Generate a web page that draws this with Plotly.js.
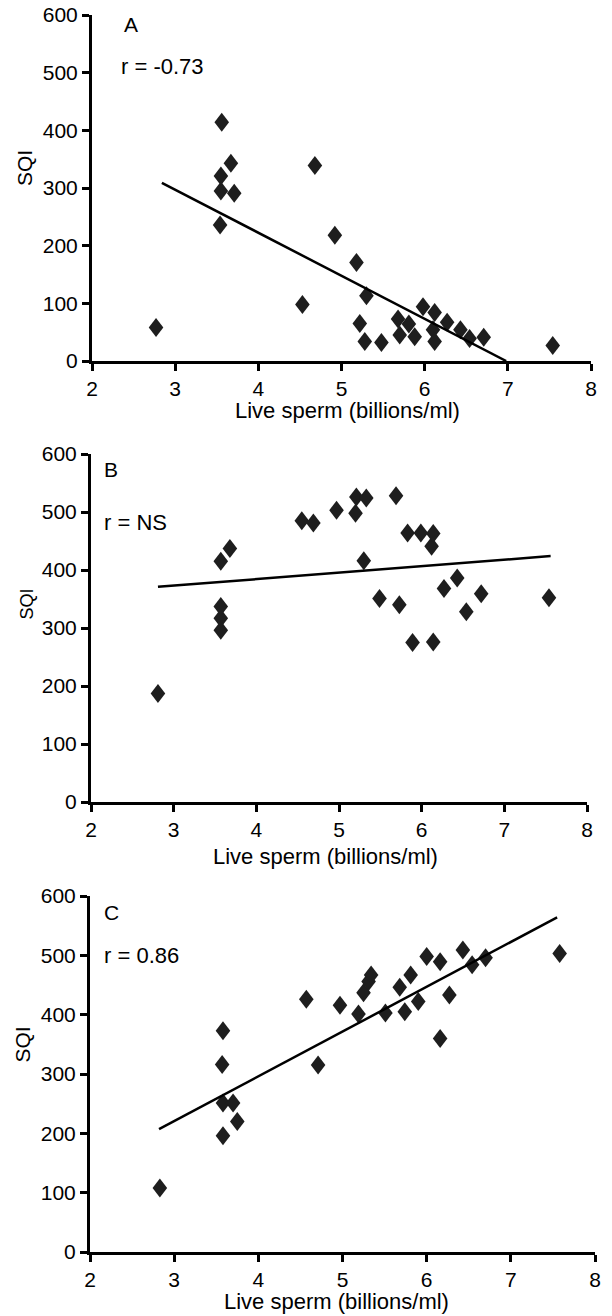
<!DOCTYPE html>
<html>
<head>
<meta charset="utf-8">
<script src="https://cdn.plot.ly/plotly-3.0.1.min.js"></script>
<style>html,body{margin:0;padding:0;background:#fff;}#chart{width:612px;height:1316px;}</style>
</head>
<body>
<div id="chart"></div>
<script>
// Panel A
const liveA = [2.77, 3.54, 3.55, 3.56, 3.55, 3.67, 3.71, 4.53, 4.68, 4.92, 5.18, 5.22, 5.28, 5.30, 5.48, 5.68, 5.70, 5.81, 5.88, 5.98, 6.10, 6.12, 6.12, 6.27, 6.43, 6.54, 6.71, 7.54];
const sqiA  = [58, 236, 295, 414, 321, 343, 291, 98, 339, 218, 171, 65, 34, 113, 32, 73, 45, 64, 42, 94, 54, 84, 34, 67, 54, 39, 41, 27];
const fitAx = [2.84, 6.98];
const fitAy = [309, 0];
// Panel B
const liveB = [2.81, 3.57, 3.57, 3.57, 3.57, 3.68, 4.55, 4.69, 4.97, 5.20, 5.21, 5.30, 5.33, 5.49, 5.69, 5.73, 5.83, 5.89, 5.99, 6.12, 6.14, 6.14, 6.27, 6.43, 6.54, 6.72, 7.54];
const sqiB  = [187, 296, 317, 337, 415, 437, 485, 481, 503, 498, 526, 416, 524, 351, 528, 340, 464, 275, 464, 441, 463, 276, 368, 386, 328, 359, 352];
const fitBx = [2.81, 7.56];
const fitBy = [371, 424];
// Panel C
const liveC = [2.83, 3.57, 3.58, 3.58, 3.58, 3.70, 3.75, 4.57, 4.71, 4.97, 5.19, 5.25, 5.31, 5.34, 5.51, 5.68, 5.74, 5.81, 5.90, 6.00, 6.16, 6.16, 6.27, 6.43, 6.54, 6.70, 7.58];
const sqiC  = [108, 316, 373, 251, 196, 251, 220, 426, 315, 416, 401, 437, 456, 467, 403, 446, 405, 467, 422, 498, 489, 360, 433, 509, 484, 496, 503];
const fitCx = [2.82, 7.55];
const fitCy = [207, 564];

const panelLabels = ["A", "B", "C"];
const rLabels = ["r = -0.73", "r = NS", "r = 0.86"];
const xTitle = "Live sperm (billions/ml)";
const yTitle = "SQI";
const xTicks = [2, 3, 4, 5, 6, 7, 8];
const yTicks = [0, 100, 200, 300, 400, 500, 600];

const W = 612, H = 1316;
const px = v => v / W;
const py = v => 1 - v / H;
const FONT = "Liberation Sans, Arial, Helvetica, sans-serif";

const mk = {symbol: "diamond", size: 13, color: "#1e1e1e", line: {width: 0}};
const ln = {color: "#000000", width: 2.5};

const traces = [
  {x: liveA, y: sqiA, xaxis: "x", yaxis: "y", mode: "markers", type: "scatter", marker: mk},
  {x: fitAx, y: fitAy, xaxis: "x", yaxis: "y", mode: "lines", type: "scatter", line: ln},
  {x: liveB, y: sqiB, xaxis: "x2", yaxis: "y2", mode: "markers", type: "scatter", marker: mk},
  {x: fitBx, y: fitBy, xaxis: "x2", yaxis: "y2", mode: "lines", type: "scatter", line: ln},
  {x: liveC, y: sqiC, xaxis: "x3", yaxis: "y3", mode: "markers", type: "scatter", marker: mk},
  {x: fitCx, y: fitCy, xaxis: "x3", yaxis: "y3", mode: "lines", type: "scatter", line: ln}
];

function xax(d, anchor) {
  return {domain: d, anchor: anchor, range: [2, 8], tickvals: xTicks, ticktext: xTicks.map(String),
    showline: true, linecolor: "#000", linewidth: 3, ticks: "outside", ticklen: 7, tickwidth: 3, tickcolor: "#000",
    showgrid: false, zeroline: false, tickfont: {family: FONT, size: 21, color: "#000"}, fixedrange: true};
}
function yax(d, anchor) {
  return {domain: d, anchor: anchor, range: [0, 600], tickvals: yTicks, ticktext: yTicks.map(String),
    showline: true, linecolor: "#000", linewidth: 3, ticks: "outside", ticklen: 7, tickwidth: 3, tickcolor: "#000",
    showgrid: false, zeroline: false, tickfont: {family: FONT, size: 21, color: "#000"}, fixedrange: true};
}

const geo = [
  {x0: 92, x1: 591, yTop: 15, yBot: 361, lab: [131, 25], r: [119, 67], sqi: [24.5, 167.5], sqiSize: 21, xt: [347, 411]},
  {x0: 91, x1: 587, yTop: 454, yBot: 802, lab: [111, 469], r: [102, 522], sqi: [26, 604.5], sqiSize: 18, xt: [325, 857]},
  {x0: 90, x1: 595, yTop: 896, yBot: 1252, lab: [111, 912], r: [102, 955], sqi: [21.5, 1045], sqiSize: 21, xt: [336, 1301]}
];

const annotations = [];
geo.forEach((g, i) => {
  annotations.push({text: panelLabels[i], xref: "paper", yref: "paper", x: px(g.lab[0]), y: py(g.lab[1]),
    xanchor: "center", yanchor: "middle", showarrow: false, font: {family: FONT, size: 21, color: "#000"}});
  annotations.push({text: rLabels[i], xref: "paper", yref: "paper", x: px(g.r[0]), y: py(g.r[1]),
    xanchor: "left", yanchor: "middle", showarrow: false, font: {family: FONT, size: 22, color: "#000"}});
  annotations.push({text: yTitle, xref: "paper", yref: "paper", x: px(g.sqi[0]), y: py(g.sqi[1]),
    xanchor: "center", yanchor: "middle", textangle: -90, showarrow: false, font: {family: FONT, size: g.sqiSize, color: "#000"}});
  annotations.push({text: xTitle, xref: "paper", yref: "paper", x: px(g.xt[0]), y: py(g.xt[1]),
    xanchor: "center", yanchor: "middle", showarrow: false, font: {family: FONT, size: 22, color: "#000"}});
});

const layout = {
  width: W, height: H, margin: {l: 0, r: 0, t: 0, b: 0},
  paper_bgcolor: "#fff", plot_bgcolor: "#fff", showlegend: false,
  xaxis: xax([px(geo[0].x0), px(geo[0].x1)], "y"),
  yaxis: yax([py(geo[0].yBot), py(geo[0].yTop)], "x"),
  xaxis2: xax([px(geo[1].x0), px(geo[1].x1)], "y2"),
  yaxis2: yax([py(geo[1].yBot), py(geo[1].yTop)], "x2"),
  xaxis3: xax([px(geo[2].x0), px(geo[2].x1)], "y3"),
  yaxis3: yax([py(geo[2].yBot), py(geo[2].yTop)], "x3"),
  annotations: annotations
};

Plotly.newPlot("chart", traces, layout, {displayModeBar: false, staticPlot: true}).then(gd => {
  // reshape the diamonds to the taller-than-wide look of the original (positions untouched)
  gd.querySelectorAll("path.point").forEach(p => p.setAttribute("d", "M0,-9.5L7.3,0L0,9.5L-7.3,0Z"));
});
</script>
</body>
</html>
